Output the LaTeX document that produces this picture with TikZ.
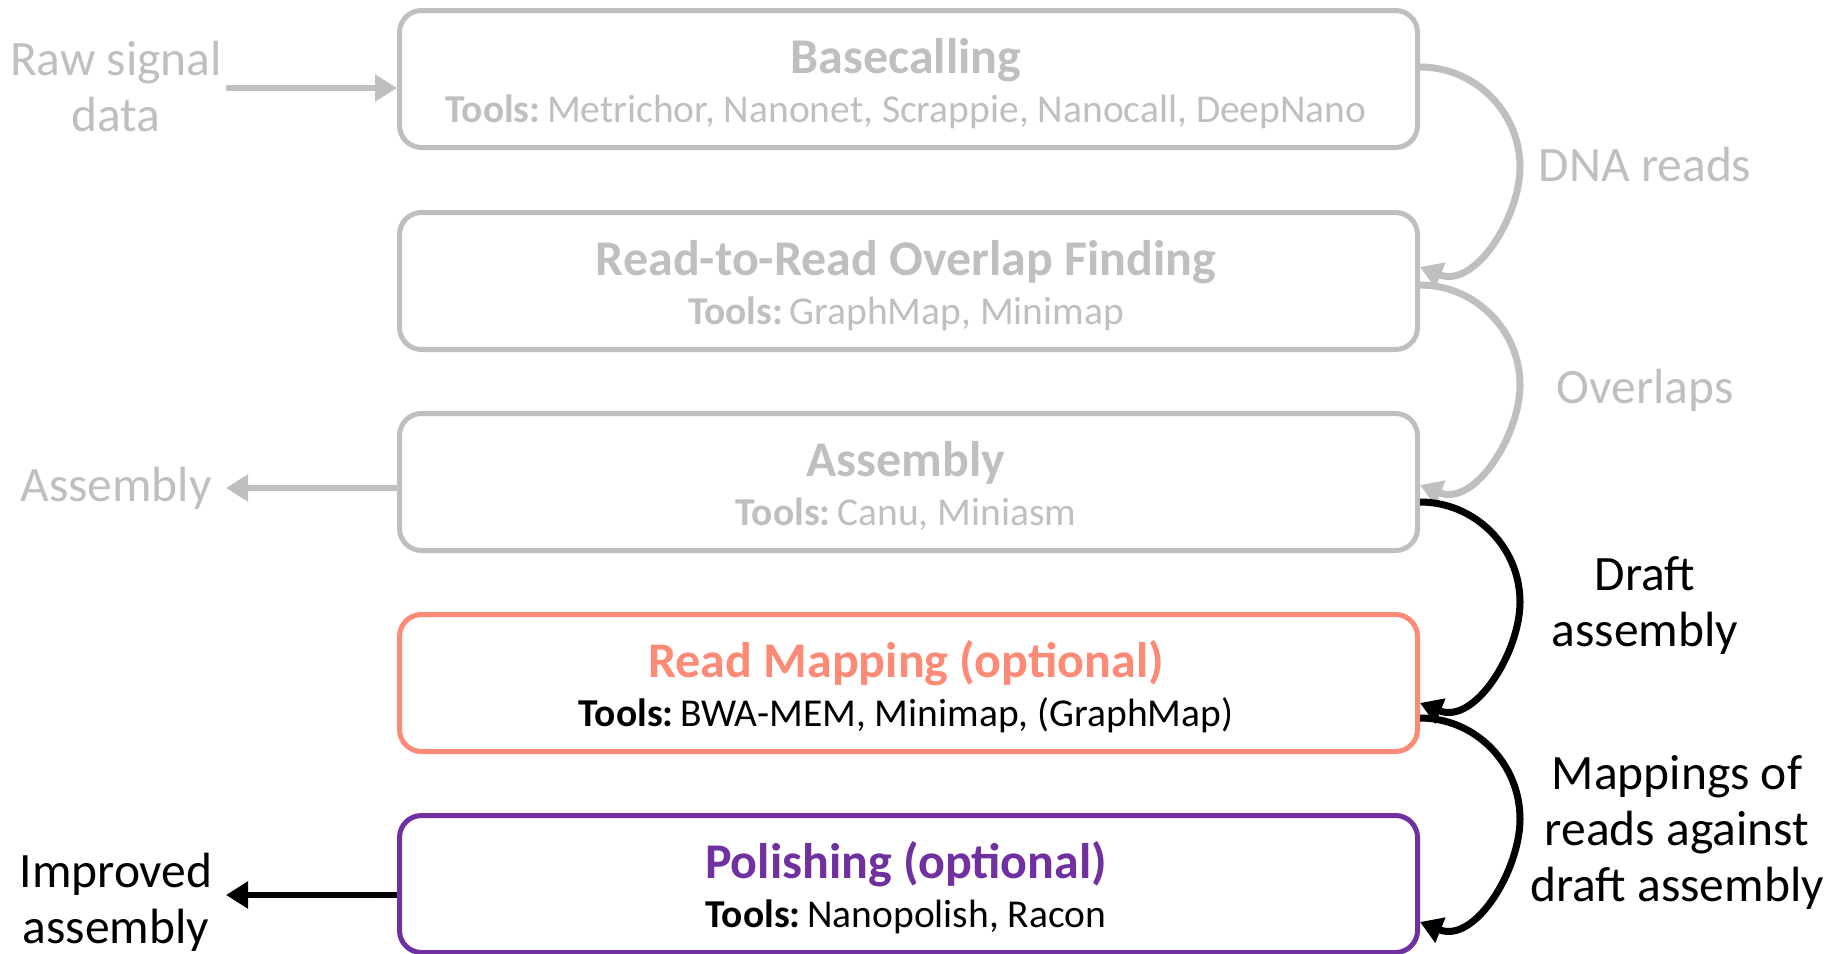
\documentclass[tikz,border=0pt]{standalone}
\usepackage{fontspec}
\setmainfont{Carlito}
\usetikzlibrary{arrows.meta,calc}

\definecolor{fade}{HTML}{BFBFBF}
\definecolor{salmon}{HTML}{FC8A76}
\definecolor{plum}{HTML}{7030A0}

\begin{document}
\begin{tikzpicture}[x=1pt,y=-1pt,
  stage/.style={draw, line width=5pt, rounded corners=22pt,
    minimum width=1018pt, minimum height=137pt, inner sep=0pt},
  title/.style={font=\fontsize{50}{58}\selectfont\bfseries, anchor=base, inner sep=0pt},
  tools/.style={font=\fontsize{39.5}{46}\selectfont, anchor=base, inner sep=0pt},
  side/.style={font=\fontsize{49.5}{56}\selectfont, align=center, inner sep=0pt},
  link/.style={line width=6.5pt, -{Triangle[length=22pt,width=26pt]}},
  arcflow/.style={line width=7pt, -{Triangle[length=22pt,width=26pt]}},
]
\useasboundingbox (0,0) rectangle (1839,953);

% pipeline stages
\node[stage, fade]   (b1) at (908.5,79)  {};
\node[stage, fade]   (b2) at (908.5,281) {};
\node[stage, fade]   (b3) at (908.5,482) {};
\node[stage, salmon] (b4) at (908.5,683) {};
\node[stage, plum]   (b5) at (908.5,884) {};

% stage titles and tools
\node[title, fade] (t1) at (906,73) {Basecalling};
\node[tools, fade] (u1) at (906,122) {\textbf{Tools:}\,Metrichor, Nanonet, Scrappie, Nanocall, DeepNano};
\node[title, fade] (t2) at (906,275) {Read-to-Read Overlap Finding};
\node[tools, fade] (u2) at (906,324) {\textbf{Tools:}\,GraphMap, Minimap};
\node[title, fade] (t3) at (906,476) {Assembly};
\node[tools, fade] (u3) at (906,525) {\textbf{Tools:}\,Canu, Miniasm};
\node[title, salmon] (t4) at (906,677) {Read Mapping (optional)};
\node[tools, black]  (u4) at (906,726) {\textbf{Tools:}\,BWA-MEM, Minimap, (GraphMap)};
\node[title, plum]   (t5) at (906,878) {Polishing (optional)};
\node[tools, black]  (u5) at (906,927) {\textbf{Tools:}\,Nanopolish, Racon};

% inputs and outputs on the left
\node[side, fade]  (raw) at (116,86)  {Raw signal\\data};
\node[side, fade]  (asm) at (116,488) {Assembly};
\node[side, black] (imp) at (116,902) {Improved\\assembly};
\coordinate (rawtail) at (226,88);
\coordinate (asmtip)  at (226,488);
\coordinate (imptip)  at (226,895);

\draw[link, fade]  (rawtail) -- (b1.west |- rawtail);
\draw[link, fade]  (b3.west |- asmtip) -- (asmtip);
\draw[link, black] (b5.west |- imptip) -- (imptip);

% intermediate products on the right
\node[side, fade]  (dna)  at (1645,164) {DNA reads};
\node[side, fade]  (ovl)  at (1645,390) {Overlaps};
\node[side, black] (dft)  at (1645,606) {Draft\\assembly};
\node[side, black] (mapl) at (1677,832) {Mappings of\\reads against\\draft assembly};

% curved hand-over arrows: two elliptic quarters, the second tilting into the tip
\coordinate (s1) at ($(b1.east)+(0,-12)$);  \coordinate (e1) at ($(b2.east)+(0,-14)$);
\coordinate (s2) at ($(b2.east)+(0,4)$);    \coordinate (e2) at ($(b3.east)+(0,3)$);
\coordinate (s3) at ($(b3.east)+(0,20)$);   \coordinate (e3) at ($(b4.east)+(0,20)$);
\coordinate (s4) at ($(b4.east)+(0,35)$);   \coordinate (e4) at ($(b5.east)+(0,38)$);

\draw[arcflow, fade]  (s1) .. controls ($(s1)+(55,0)$) and ($(s1)+(100,45)$) .. ($(s1)+(100,100)$)
                           .. controls ($(s1)+(100,150)$) and ($(e1)+(55,22)$) .. (e1);
\draw[arcflow, fade]  (s2) .. controls ($(s2)+(55,0)$) and ($(s2)+(100,45)$) .. ($(s2)+(100,100)$)
                           .. controls ($(s2)+(100,150)$) and ($(e2)+(55,22)$) .. (e2);
\draw[arcflow, black] (s3) .. controls ($(s3)+(55,0)$) and ($(s3)+(100,45)$) .. ($(s3)+(100,100)$)
                           .. controls ($(s3)+(100,150)$) and ($(e3)+(55,22)$) .. (e3);
\draw[arcflow, black] (s4) .. controls ($(s4)+(55,0)$) and ($(s4)+(100,45)$) .. ($(s4)+(100,101)$)
                           .. controls ($(s4)+(100,152)$) and ($(e4)+(55,22)$) .. (e4);
\end{tikzpicture}
\end{document}
